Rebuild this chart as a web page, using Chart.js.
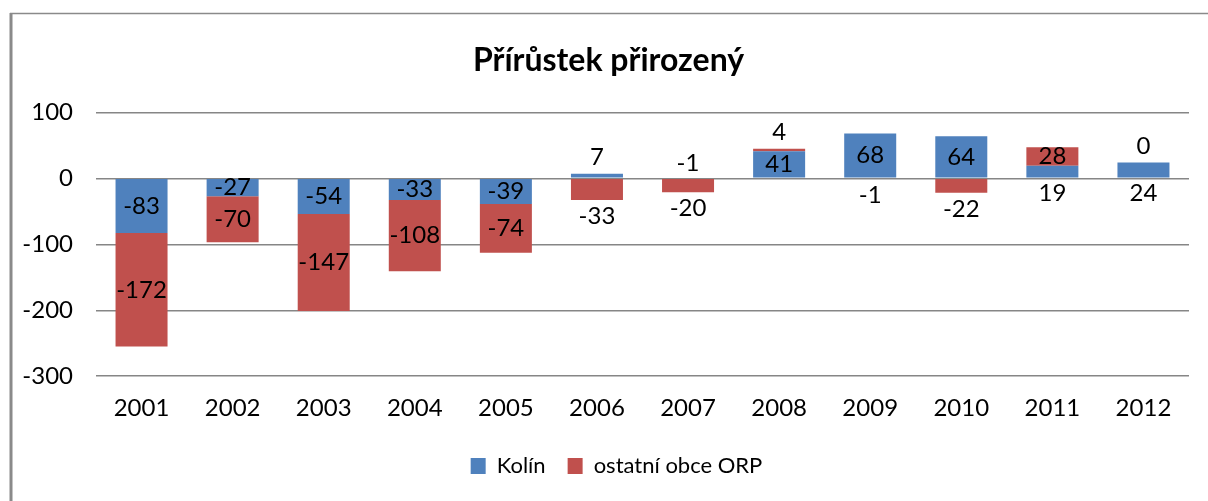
<!DOCTYPE html>
<html>
<head>
<meta charset="utf-8">
<script src="https://cdn.jsdelivr.net/npm/chart.js@4.4.0/dist/chart.umd.min.js"></script>
<style>
  html, body { margin: 0; padding: 0; background: #fff; }
  #wrap { width: 1208px; height: 501px; }
</style>
</head>
<body>
<div id="wrap"><canvas id="prirustek"></canvas></div>
<script>
  const years = ['2001', '2002', '2003', '2004', '2005', '2006', '2007', '2008', '2009', '2010', '2011', '2012'];
  const kolin = [-83, -27, -54, -33, -39, 7, -1, 41, 68, 64, 19, 24];
  const ostatni = [-172, -70, -147, -108, -74, -33, -20, 4, -1, -22, 28, 0];
  const yTicks = [100, 0, -100, -200, -300];

  const FONT = 'Lato, "Liberation Sans", sans-serif';

  // gray frame round the chart, like the excel chart border
  const frame = {
    id: 'frame',
    beforeDraw(chart) {
      const c = chart.ctx;
      c.save();
      c.strokeStyle = '#8a8a8a';
      c.lineWidth = 3;
      c.beginPath();
      c.moveTo(11, 13);
      c.lineTo(11, chart.height);
      c.stroke();
      c.lineWidth = 1.5;
      c.beginPath();
      c.moveTo(10, 13.5);
      c.lineTo(chart.width, 13.5);
      c.stroke();
      c.restore();
    }
  };

  // title and legend sit a bit right of the canvas middle in the original
  const shiftBoxes = {
    id: 'shiftBoxes',
    afterLayout(chart) {
      chart.legend.left += 22;
      chart.legend.right += 22;
      chart.titleBlock.left += 14;
      chart.titleBlock.right += 14;
    }
  };

  // value labels: centered in the segment, small ones pushed outside the stack
  const valueLabels = {
    id: 'valueLabels',
    afterDatasetsDraw(chart) {
      const c = chart.ctx;
      const m0 = chart.getDatasetMeta(0);
      const m1 = chart.getDatasetMeta(1);
      c.save();
      c.font = '24px ' + FONT;
      c.fillStyle = '#000';
      c.textAlign = 'center';
      c.textBaseline = 'middle';
      const off = 16;
      years.forEach((y, i) => {
        const v0 = kolin[i], v1 = ostatni[i];
        const b0 = m0.data[i], b1 = m1.data[i];
        const same = (v0 >= 0) === (v1 >= 0);
        const limit = same ? 16.5 : 25;
        const h0 = Math.abs(b0.base - b0.y), h1 = Math.abs(b1.base - b1.y);
        // top series
        let y1;
        if (h1 >= limit) y1 = (b1.y + b1.base) / 2;
        else if (v1 >= 0) y1 = Math.min(b1.y, b1.base) - off;
        else y1 = Math.max(b1.y, b1.base) + off;
        // bottom series, goes on the other side than the top series
        let y0;
        if (h0 >= limit) y0 = (b0.y + b0.base) / 2;
        else if (v1 < 0) y0 = Math.min(b0.y, b0.base) - off;
        else y0 = Math.max(b0.y, b0.base) + off;
        c.fillText(String(v0), b0.x, y0);
        c.fillText(String(v1), b1.x, y1);
      });
      c.restore();
    }
  };

  const ctx = document.getElementById('prirustek');

  new Chart(ctx, {
    type: 'bar',
    data: {
      labels: years,
      datasets: [{
        label: 'Kolín',
        data: kolin,
        backgroundColor: '#4f81bd',
        stack: 's'
      }, {
        label: 'ostatní obce ORP',
        data: ostatni,
        backgroundColor: '#c0504d',
        stack: 's'
      }]
    },
    options: {
      responsive: true,
      maintainAspectRatio: false,
      animation: false,
      categoryPercentage: 1,
      barPercentage: 0.571,
      layout: { padding: { left: 0, right: 19, top: 0, bottom: 14 } },
      plugins: {
        title: {
          display: true,
          text: 'Přírůstek přirozený',
          color: '#000',
          font: { family: FONT, size: 32, weight: 'bold', lineHeight: 1.2 },
          padding: { top: 41, bottom: 33 }
        },
        legend: {
          position: 'bottom',
          labels: {
            color: '#000',
            font: { family: FONT, size: 22, lineHeight: 1 },
            boxWidth: 15,
            boxHeight: 16,
            padding: 22
          }
        },
        tooltip: { enabled: false }
      },
      scales: {
        x: {
          stacked: true,
          grid: { display: false },
          border: { display: false },
          ticks: { color: '#000', font: { family: FONT, size: 24 }, padding: 10 }
        },
        y: {
          stacked: true,
          min: -300,
          max: 100,
          afterFit(scale) { scale.width = 96; },
          afterBuildTicks(scale) { scale.ticks = yTicks.map(v => ({ value: v })); },
          grid: { color: '#868686', lineWidth: 1.5, drawTicks: false },
          border: { display: false },
          ticks: { color: '#000', font: { family: FONT, size: 24 }, padding: 23 }
        }
      }
    },
    plugins: [frame, shiftBoxes, valueLabels]
  });
</script>
</body>
</html>
